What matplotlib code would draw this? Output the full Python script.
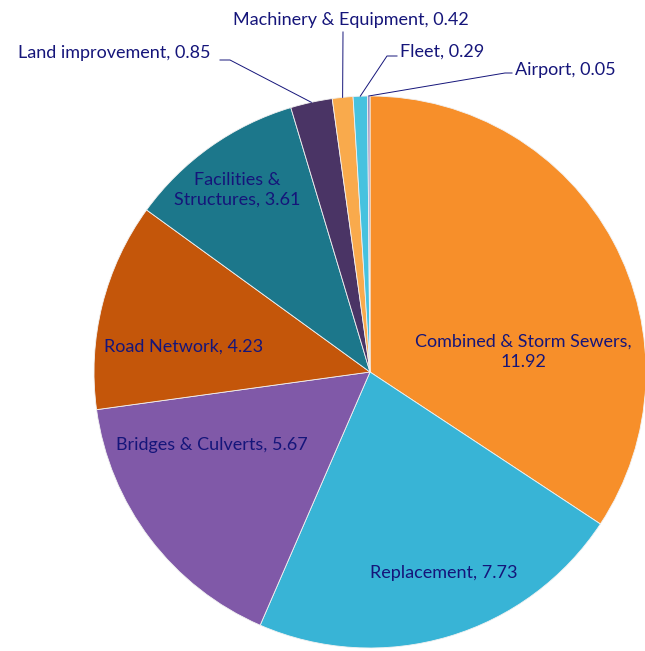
import numpy as np
import matplotlib
matplotlib.use('Agg')
from matplotlib import pyplot as plt

labels = ['Combined & Storm Sewers,\n11.92', 'Replacement, 7.73', 'Bridges & Culverts, 5.67',
          'Road Network, 4.23', 'Facilities &\nStructures, 3.61', 'Land improvement, 0.85',
          'Machinery & Equipment, 0.42', 'Fleet, 0.29', 'Airport, 0.05']
values = [11.92, 7.73, 5.67, 4.23, 3.61, 0.85, 0.42, 0.29, 0.05]
colors = ['#F78F2A', '#38B4D6', '#8059A8', '#C4560A', '#1C778B', '#4A3465',
          '#F9AA4C', '#46C2DF', '#9C8FBE']

W, H = 645, 651
cx, cy, r = 370, H - 372, 276
txt_col = '#15157A'
fs = 13

plt.rcParams['font.family'] = ['Lato', 'DejaVu Sans']

fig = plt.figure(figsize=(W / 100, H / 100), dpi=100)
ax = fig.add_axes([0, 0, 1, 1])

wedges, _ = ax.pie(values, colors=colors, startangle=90, counterclock=False,
                   center=(cx, cy), radius=r, frame=True,
                   wedgeprops=dict(edgecolor='#F2F2F2', linewidth=0.6))
ax.set_xlim(0, W)
ax.set_ylim(0, H)
ax.axis('off')

# labels inside the big slices (pixel positions, y from top)
inside = {0: (523, 352), 1: (444, 573), 2: (212, 445), 3: (184, 347), 4: (237, 190)}
for i, (x, y) in inside.items():
    ax.text(x, H - y, labels[i], ha='center', va='center', color=txt_col,
            fontsize=fs, linespacing=1.3)

# outside labels with leader lines: text pos, ha, elbow points
outside = {
    5: ((18, 53), 'left', [(220, 60), (230, 60)]),
    6: ((233, 20), 'left', [(343, 32)]),
    7: ((400, 52), 'left', [(397, 56), (387, 56)]),
    8: ((515, 70), 'left', [(512, 73), (505, 73)]),
}
total = sum(values)
start = 90.0
mids = []
for v in values:
    sweep = v / total * 360
    mids.append(start - sweep / 2)
    start -= sweep

for i, ((tx, ty), ha, pts) in outside.items():
    ax.text(tx, H - ty, labels[i], ha=ha, va='center', color=txt_col, fontsize=fs)
    a = np.deg2rad(mids[i])
    ex, ey = cx + r * np.cos(a), cy + r * np.sin(a)
    xs = [p[0] for p in pts] + [ex]
    ys = [H - p[1] for p in pts] + [ey]
    ax.plot(xs, ys, color=txt_col, linewidth=0.7)

fig.savefig('out.png', dpi=100)
